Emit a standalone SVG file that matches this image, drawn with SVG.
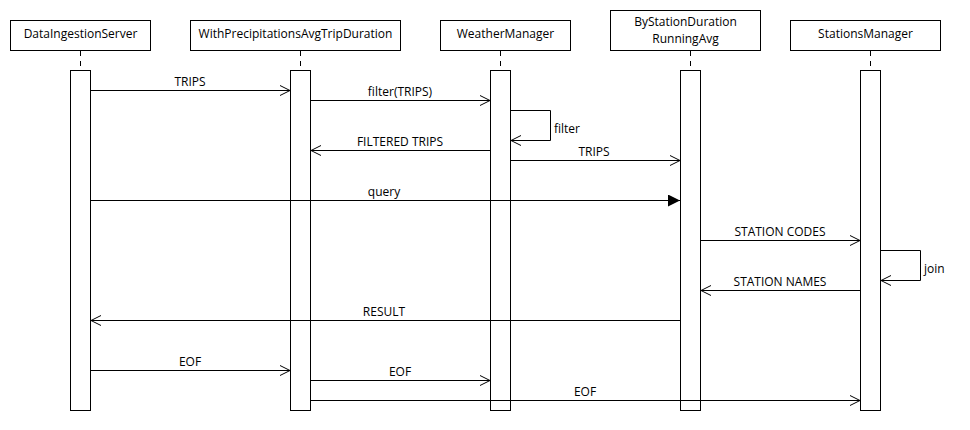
<svg xmlns="http://www.w3.org/2000/svg" width="970" height="430" viewBox="0 0 970 430">
<defs>
<style>
.box{fill:#fff;stroke:#000;stroke-width:1}
.life{stroke:#000;stroke-width:1;stroke-dasharray:5,5}
.act{fill:#fff;stroke:#000;stroke-width:1}
.msg{fill:none;stroke:#000;stroke-width:1}
text{font-family:"Open Sans","Noto Sans","DejaVu Sans",sans-serif;font-size:12px;fill:#000}
.c{text-anchor:middle}
</style>
<marker id="open" viewBox="0 0 12 12" refX="11" refY="6" markerWidth="12" markerHeight="12" markerUnits="userSpaceOnUse" orient="auto">
<path d="M1,1 L11,6 L1,11" fill="none" stroke="#000" stroke-width="1"/>
</marker>
<marker id="fill" viewBox="0 0 12 12" refX="12" refY="6" markerWidth="12" markerHeight="12" markerUnits="userSpaceOnUse" orient="auto">
<path d="M0,0 L12,6 L0,12 Z" fill="#000"/>
</marker>
</defs>
<rect width="970" height="430" fill="#fff"/>
<g id="DataIngestionServer">
<rect class="box" x="10.5" y="20.5" width="140" height="30"/>
<text class="c" x="80.5" y="38">DataIngestionServer</text>
<line class="life" x1="80.5" y1="51" x2="80.5" y2="70"/>
<rect class="act" x="70.5" y="70.5" width="20" height="340"/>
</g>
<g id="WithPrecipitationsAvgTripDuration">
<rect class="box" x="190.5" y="20.5" width="210" height="30"/>
<text class="c" x="295.5" y="38">WithPrecipitationsAvgTripDuration</text>
<line class="life" x1="300.5" y1="51" x2="300.5" y2="70"/>
<rect class="act" x="290.5" y="70.5" width="20" height="340"/>
</g>
<g id="WeatherManager">
<rect class="box" x="440.5" y="20.5" width="130" height="30"/>
<text class="c" x="505.5" y="38">WeatherManager</text>
<line class="life" x1="500.5" y1="51" x2="500.5" y2="70"/>
<rect class="act" x="490.5" y="70.5" width="20" height="340"/>
</g>
<g id="ByStationDurationRunningAvg">
<rect class="box" x="610.5" y="10.5" width="150" height="40"/>
<text class="c" x="685.5" y="26">ByStationDuration</text>
<text class="c" x="685.5" y="42.5">RunningAvg</text>
<line class="life" x1="690.5" y1="51" x2="690.5" y2="70"/>
<rect class="act" x="680.5" y="70.5" width="20" height="340"/>
</g>
<g id="StationsManager">
<rect class="box" x="790.5" y="20.5" width="150" height="30"/>
<text class="c" x="865.5" y="38">StationsManager</text>
<line class="life" x1="870.5" y1="51" x2="870.5" y2="70"/>
<rect class="act" x="860.5" y="70.5" width="20" height="340"/>
</g>
<g id="connectors">
<line class="msg" x1="91" y1="90.5" x2="290" y2="90.5" marker-end="url(#open)"/>
<text class="c" x="190" y="86">TRIPS</text>
<line class="msg" x1="311" y1="100.5" x2="490" y2="100.5" marker-end="url(#open)"/>
<text class="c" x="400" y="96">filter(TRIPS)</text>
<polyline class="msg" points="511,110.5 550.5,110.5 550.5,140.5 511,140.5" marker-end="url(#open)"/>
<text x="554" y="133">filter</text>
<line class="msg" x1="490" y1="150.5" x2="311" y2="150.5" marker-end="url(#open)"/>
<text class="c" x="400" y="146">FILTERED TRIPS</text>
<line class="msg" x1="511" y1="160.5" x2="680" y2="160.5" marker-end="url(#open)"/>
<text class="c" x="594" y="156">TRIPS</text>
<line class="msg" x1="91" y1="200.5" x2="680" y2="200.5" marker-end="url(#fill)"/>
<text class="c" x="384" y="196">query</text>
<line class="msg" x1="701" y1="240.5" x2="860" y2="240.5" marker-end="url(#open)"/>
<text class="c" x="780" y="236">STATION CODES</text>
<polyline class="msg" points="881,250.5 920.5,250.5 920.5,280.5 881,280.5" marker-end="url(#open)"/>
<text x="924" y="273">join</text>
<line class="msg" x1="860" y1="290.5" x2="701" y2="290.5" marker-end="url(#open)"/>
<text class="c" x="780" y="286">STATION NAMES</text>
<line class="msg" x1="680" y1="320.5" x2="91" y2="320.5" marker-end="url(#open)"/>
<text class="c" x="384" y="316">RESULT</text>
<line class="msg" x1="91" y1="370.5" x2="290" y2="370.5" marker-end="url(#open)"/>
<text class="c" x="190" y="366">EOF</text>
<line class="msg" x1="311" y1="380.5" x2="490" y2="380.5" marker-end="url(#open)"/>
<text class="c" x="400" y="376">EOF</text>
<line class="msg" x1="311" y1="400.5" x2="860" y2="400.5" marker-end="url(#open)"/>
<text class="c" x="585" y="396">EOF</text>
</g>
</svg>
